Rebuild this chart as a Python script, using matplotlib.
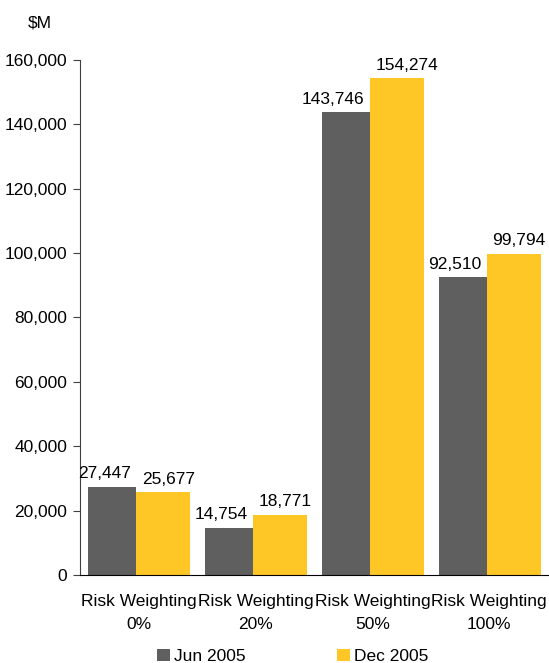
import matplotlib
matplotlib.use("Agg")
import matplotlib.pyplot as plt
import numpy as np

categories = ["Risk Weighting\n0%", "Risk Weighting\n20%", "Risk Weighting\n50%", "Risk Weighting\n100%"]
series_names = ["Jun 2005", "Dec 2005"]
jun_2005 = [27447, 14754, 143746, 92510]
dec_2005 = [25677, 18771, 154274, 99794]
yticks = [0, 20000, 40000, 60000, 80000, 100000, 120000, 140000, 160000]

colors = ["#5f5f5f", "#ffc726"]
FS = 12.5

plt.rcParams['font.family'] = ['Liberation Sans', 'DejaVu Sans']
fig = plt.figure(figsize=(5.49, 6.63), dpi=100)
ax = fig.add_axes([0.1457, 0.1327, 0.852, 0.777])

x = np.arange(len(categories))
split = x - 0.02
w1, w2 = 0.41, 0.46
b1 = ax.bar(split, jun_2005, -w1, align='edge', color=colors[0], label=series_names[0])
b2 = ax.bar(split, dec_2005, w2, align='edge', color=colors[1], label=series_names[1])

for s, v in zip(split, jun_2005):
    ax.annotate(f"{v:,}", (s, v), xytext=(-4, 4), textcoords="offset points",
                ha="right", va="bottom", fontsize=FS)
for s, v in zip(split, dec_2005):
    ax.annotate(f"{v:,}", (s, v), xytext=(4, 4), textcoords="offset points",
                ha="left", va="bottom", fontsize=FS)

ax.set_xlim(-0.5, 3.5)
ax.set_ylim(0, 160000)
ax.set_yticks(yticks)
ax.set_yticklabels([f"{t:,}" for t in yticks], fontsize=FS)
ax.set_xticks(x)
ax.set_xticklabels(categories, fontsize=FS, linespacing=1.65)
ax.tick_params(axis='x', length=0, pad=14)
ax.tick_params(axis='y', length=5, direction='out', color='#404040', pad=4)
for s in ("top", "right"):
    ax.spines[s].set_visible(False)
ax.spines['left'].set_color('#404040')
ax.spines['bottom'].set_color('black')

fig.text(0.051, 0.966, "$M", fontsize=FS, ha="left", va="center")

leg = fig.legend(handles=[b1, b2], labels=series_names, loc="center", bbox_to_anchor=(0.533, 0.01),
                 ncol=2, frameon=False, fontsize=FS, handlelength=0.75, handleheight=0.75,
                 handletextpad=0.2, columnspacing=5.3)

fig.savefig("out.png", dpi=100)
